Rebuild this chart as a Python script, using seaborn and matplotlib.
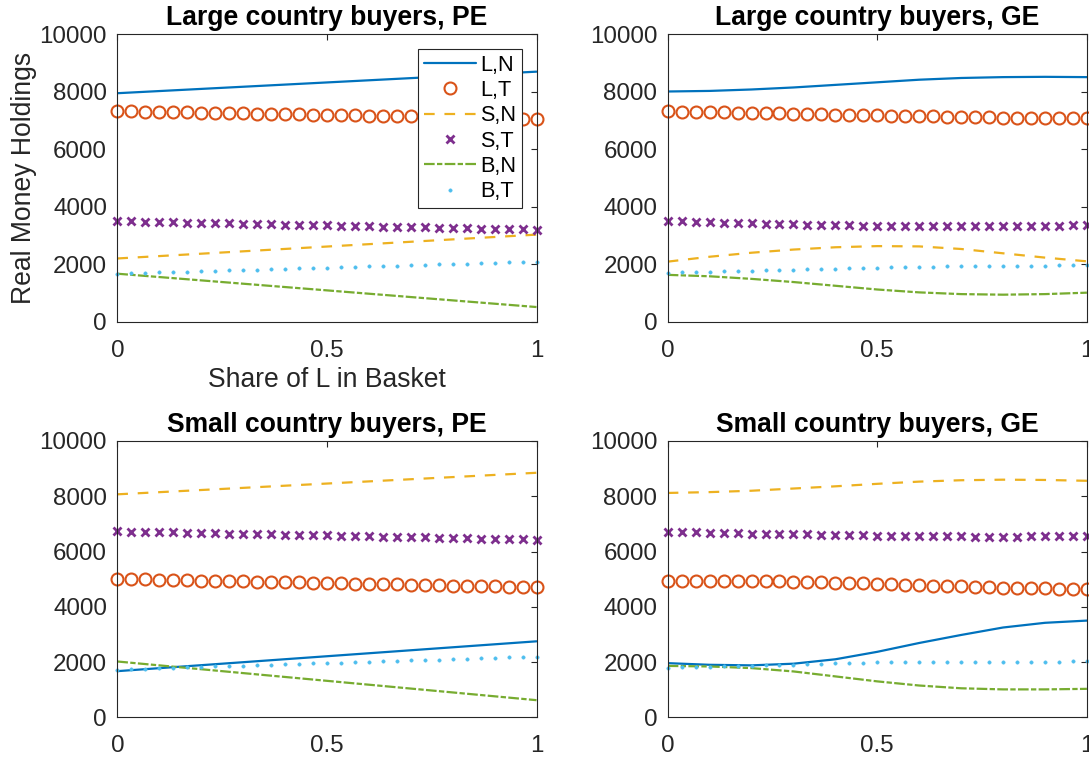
import numpy as np
import matplotlib
matplotlib.use('Agg')
import matplotlib.pyplot as plt
import seaborn as sb

# share of L in the basket: markers on 31 points, lines on 11 points
share_pts = np.linspace(0, 1, 31)
share = np.linspace(0, 1, 11)

series_names = ['L,N', 'L,T', 'S,N', 'S,T', 'B,N', 'B,T']

# Large country buyers, PE
lpe_LN = [7950, 8025, 8100, 8175, 8250, 8325, 8400, 8475, 8550, 8625, 8700]
lpe_LT = [7330, 7320, 7310, 7300, 7295, 7285, 7275, 7265, 7255, 7250, 7240,
          7230, 7220, 7210, 7205, 7195, 7185, 7175, 7165, 7160, 7150, 7140,
          7130, 7120, 7115, 7105, 7095, 7085, 7075, 7070, 7060]
lpe_SN = [2200, 2283, 2366, 2449, 2532, 2615, 2698, 2781, 2864, 2947, 3030]
lpe_ST = [3500, 3490, 3480, 3470, 3460, 3450, 3440, 3430, 3420, 3410, 3400,
          3390, 3380, 3370, 3360, 3350, 3340, 3330, 3320, 3310, 3300, 3290,
          3280, 3270, 3260, 3250, 3240, 3230, 3220, 3210, 3200]
lpe_BN = [1670, 1554, 1438, 1322, 1206, 1090, 974, 858, 742, 626, 510]
lpe_BT = [1670, 1684, 1698, 1712, 1726, 1740, 1754, 1768, 1782, 1796, 1810,
          1824, 1838, 1852, 1866, 1880, 1894, 1908, 1922, 1936, 1950, 1964,
          1978, 1992, 2006, 2020, 2034, 2048, 2062, 2076, 2090]

# Large country buyers, GE
lge_LN = [8010, 8030, 8080, 8150, 8240, 8330, 8420, 8480, 8510, 8520, 8510]
lge_LT = [7320, 7311, 7302, 7292, 7283, 7274, 7264, 7255, 7246, 7236, 7227,
          7218, 7208, 7199, 7190, 7180, 7171, 7162, 7153, 7144, 7135, 7126,
          7118, 7110, 7104, 7099, 7094, 7090, 7086, 7083, 7080]
lge_SN = [2090, 2260, 2400, 2510, 2590, 2630, 2620, 2530, 2380, 2230, 2100]
lge_ST = [3500, 3487, 3474, 3461, 3449, 3437, 3425, 3414, 3403, 3392, 3382,
          3372, 3363, 3354, 3346, 3335, 3330, 3325, 3321, 3318, 3316, 3315,
          3315, 3316, 3318, 3321, 3326, 3333, 3342, 3355, 3370]
lge_BN = [1630, 1580, 1490, 1380, 1250, 1120, 1020, 960, 940, 960, 1010]
lge_BT = [1700, 1714, 1728, 1741, 1754, 1767, 1780, 1792, 1804, 1816, 1828,
          1840, 1851, 1862, 1873, 1885, 1894, 1903, 1911, 1918, 1925, 1931,
          1936, 1941, 1945, 1949, 1952, 1955, 1957, 1959, 1960]

# Small country buyers, PE
spe_LN = [1670, 1778, 1886, 1994, 2102, 2210, 2318, 2426, 2534, 2642, 2750]
spe_LT = [5010, 5000, 4990, 4980, 4970, 4960, 4950, 4940, 4930, 4920, 4910,
          4900, 4890, 4880, 4870, 4860, 4850, 4840, 4830, 4820, 4810, 4800,
          4790, 4780, 4770, 4760, 4750, 4740, 4730, 4720, 4710]
spe_SN = [8070, 8148, 8226, 8304, 8382, 8460, 8538, 8616, 8694, 8772, 8850]
spe_ST = [6730, 6720, 6710, 6700, 6690, 6680, 6670, 6660, 6650, 6640, 6630,
          6620, 6610, 6600, 6590, 6580, 6570, 6560, 6550, 6540, 6530, 6520,
          6510, 6500, 6490, 6480, 6470, 6460, 6450, 6440, 6430]
spe_BN = [2020, 1880, 1740, 1600, 1460, 1320, 1180, 1040, 900, 760, 620]
spe_BT = [1730, 1746, 1761, 1777, 1793, 1808, 1824, 1840, 1855, 1871, 1887,
          1902, 1918, 1934, 1949, 1965, 1981, 1996, 2012, 2028, 2043, 2059,
          2075, 2090, 2106, 2122, 2137, 2153, 2169, 2184, 2200]

# Small country buyers, GE
sge_LN = [1960, 1900, 1880, 1940, 2100, 2370, 2690, 2980, 3250, 3420, 3500]
sge_LT = [4950, 4950, 4948, 4946, 4943, 4939, 4934, 4928, 4921, 4912, 4902,
          4891, 4878, 4864, 4849, 4833, 4816, 4799, 4782, 4765, 4749, 4734,
          4720, 4707, 4695, 4684, 4674, 4665, 4657, 4649, 4642]
sge_SN = [8120, 8150, 8200, 8280, 8360, 8450, 8530, 8580, 8600, 8590, 8560]
sge_ST = [6710, 6700, 6690, 6680, 6670, 6661, 6652, 6643, 6634, 6625, 6616,
          6607, 6598, 6590, 6582, 6575, 6568, 6562, 6557, 6552, 6548, 6545,
          6543, 6542, 6542, 6543, 6545, 6548, 6551, 6555, 6560]
sge_BN = [1860, 1840, 1780, 1660, 1480, 1300, 1150, 1050, 1010, 1010, 1030]
sge_BT = [1790, 1803, 1817, 1830, 1843, 1857, 1870, 1883, 1897, 1910, 1923,
          1937, 1950, 1963, 1977, 1990, 1995, 1999, 2003, 2006, 2009, 2011,
          2013, 2015, 2016, 2017, 2018, 2019, 2019, 2020, 2020]

# matlab default colour order
blue, orange, yellow = '#0072BD', '#D95319', '#EDB120'
purple, green, cyan = '#7E2F8E', '#77AC30', '#4DBEEE'
ink = '#262626'

sb.set_theme(style='white')
plt.rcParams['font.family'] = ['Liberation Sans', 'DejaVu Sans']
plt.rcParams['axes.edgecolor'] = ink
plt.rcParams['axes.linewidth'] = 0.8
plt.rcParams['xtick.color'] = ink
plt.rcParams['ytick.color'] = ink

fig = plt.figure(figsize=(10.89, 7.57), dpi=100)
W, H = 1089, 757
boxes = {
    'tl': [117.3 / W, (H - 321.7) / H, 419.2 / W, 287.4 / H],
    'tr': [667.7 / W, (H - 321.7) / H, 419.2 / W, 287.4 / H],
    'bl': [117.3 / W, (H - 717.3) / H, 419.2 / W, 276.3 / H],
    'br': [667.7 / W, (H - 717.3) / H, 419.2 / W, 276.3 / H],
}


def draw_panel(ax, title, LN, LT, SN, ST, BN, BT):
    lw = 1.6
    sb.lineplot(x=share, y=LN, ax=ax, color=blue, lw=lw, label='L,N')
    sb.lineplot(x=share_pts, y=LT, ax=ax, color=orange, linestyle='', marker='o',
                markersize=8.6, markerfacecolor='none', markeredgecolor=orange,
                markeredgewidth=1.5, clip_on=False, label='L,T')
    sb.lineplot(x=share, y=SN, ax=ax, color=yellow, lw=lw,
                linestyle=(0, (4.8, 4.4)), label='S,N')
    sb.lineplot(x=share_pts, y=ST, ax=ax, color=purple, linestyle='', marker='x',
                markersize=5.2, markeredgecolor=purple, markeredgewidth=2.0,
                clip_on=False, label='S,T')
    sb.lineplot(x=share, y=BN, ax=ax, color=green, lw=lw,
                linestyle=(0, (4.8, 1.05, 2.4, 1.05)), label='B,N')
    sb.lineplot(x=share_pts, y=BT, ax=ax, color=cyan, linestyle='', marker='.',
                markersize=4.8, markerfacecolor=cyan, markeredgecolor=cyan,
                markeredgewidth=0.4, clip_on=False, label='B,T')

    ax.set_xlim(0, 1)
    ax.set_ylim(0, 10000)
    ax.set_xticks([0, 0.5, 1])
    ax.set_xticklabels(['0', '0.5', '1'])
    ax.set_yticks([0, 2000, 4000, 6000, 8000, 10000])
    ax.tick_params(axis='both', direction='in', length=4, width=0.8,
                   top=True, right=True, labelsize=17.4, colors=ink)
    ax.tick_params(axis='x', pad=13)
    ax.tick_params(axis='y', pad=7.5)
    ax.set_title(title, fontsize=19.1, fontweight='bold', pad=6.5, color='black')
    for side in ax.spines.values():
        side.set_visible(True)
        side.set_color(ink)
    ax.get_legend().remove()


axes = {k: fig.add_axes(v) for k, v in boxes.items()}
draw_panel(axes['tl'], 'Large country buyers, PE', lpe_LN, lpe_LT, lpe_SN, lpe_ST, lpe_BN, lpe_BT)
draw_panel(axes['tr'], 'Large country buyers, GE', lge_LN, lge_LT, lge_SN, lge_ST, lge_BN, lge_BT)
draw_panel(axes['bl'], 'Small country buyers, PE', spe_LN, spe_LT, spe_SN, spe_ST, spe_BN, spe_BT)
draw_panel(axes['br'], 'Small country buyers, GE', sge_LN, sge_LT, sge_SN, sge_ST, sge_BN, sge_BT)

ax = axes['tl']
ax.set_ylabel('Real Money Holdings', fontsize=19.1, color=ink, labelpad=1.5)
ax.set_xlabel('Share of L in Basket', fontsize=19.1, color=ink, labelpad=4)
leg = ax.legend(ax.get_lines(), series_names, loc='upper right',
                bbox_to_anchor=(0.9647, 0.948), borderaxespad=0,
                fontsize=15.6, frameon=True, fancybox=False, framealpha=1,
                edgecolor=ink, handlelength=2.4, handletextpad=0.22,
                labelspacing=0.2, borderpad=0.25)
leg.get_frame().set_linewidth(0.8)
for t in leg.get_texts():
    t.set_color('black')

plt.savefig('out.png', dpi=100)
